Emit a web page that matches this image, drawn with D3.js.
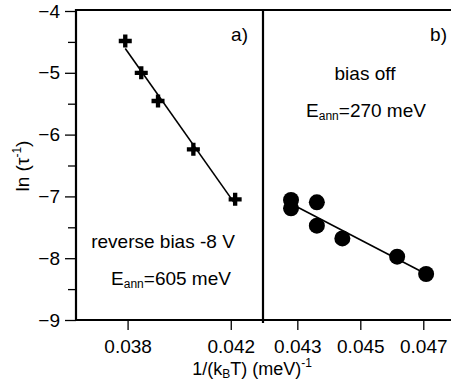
<!DOCTYPE html>
<html><head><meta charset="utf-8">
<script src="https://cdn.jsdelivr.net/npm/d3@7"></script>
<style>body{margin:0;background:#fff}svg{display:block;font-family:"Liberation Sans",Arial,sans-serif}</style>
</head><body><svg id="c" width="451" height="383"></svg>
<script>
// Panel a: reverse bias -8 V (crosses)
const xA_vals = [0.03791, 0.03853, 0.03918, 0.04055, 0.04217];
const yA_vals = [-4.485, -5.0, -5.456, -6.238, -7.047];
// Panel b: bias off (circles)
const xB_vals = [0.0428, 0.0428, 0.04362, 0.04362, 0.04443, 0.04617, 0.04709];
const yB_vals = [-7.058, -7.193, -7.096, -7.474, -7.68, -7.976, -8.256];
const yTicks = [-9, -8, -7, -6, -5, -4];
const yMinor = [-8.5, -7.5, -6.5, -5.5, -4.5];
const xA_ticks = [0.038, 0.042];
const xB_ticks = [0.043, 0.045, 0.047];

const svg = d3.select("#c");
const L = 76, T = 10, B = 320, D = 263, R = 451;
const y = d3.scaleLinear().domain([-9, -4]).range([320, 11]);
const xA = d3.scaleLinear().domain([0.036, 0.04325]).range([L, D]);
const xB = d3.scaleLinear().domain([0.04191, 0.04788]).range([D, R]);

function styleAxis(g){
  g.select(".domain").remove();
  g.selectAll("line").attr("stroke","#000").attr("stroke-width",1.3);
  g.selectAll("text").attr("font-size",19).attr("fill","#000").attr("font-family","Liberation Sans, Arial, sans-serif");
}
svg.append("g").attr("transform",`translate(${L},0)`)
  .call(d3.axisLeft(y).tickValues(yTicks).tickSize(11).tickPadding(5).tickFormat(d3.format("d")))
  .call(styleAxis);
svg.append("g").attr("transform",`translate(${L},0)`)
  .call(d3.axisLeft(y).tickValues(yMinor).tickSize(8).tickFormat(""))
  .call(styleAxis);
svg.append("g").attr("transform",`translate(0,${B})`)
  .call(d3.axisBottom(xA).tickValues(xA_ticks).tickSize(10).tickPadding(10).tickFormat(d3.format(".3f")))
  .call(styleAxis);
svg.append("g").attr("transform",`translate(0,${B})`)
  .call(d3.axisBottom(xB).tickValues(xB_ticks).tickSize(10).tickPadding(10).tickFormat(d3.format(".3f")))
  .call(styleAxis);

// frame
const fr = svg.append("g").attr("stroke","#000").attr("stroke-width",2.2).attr("fill","none");
fr.append("line").attr("x1",L).attr("x2",L).attr("y1",T-1).attr("y2",B+1);
fr.append("line").attr("x1",L-1).attr("x2",R).attr("y1",T).attr("y2",T);
fr.append("line").attr("x1",L-1).attr("x2",R).attr("y1",B).attr("y2",B);
fr.append("line").attr("x1",D).attr("x2",D).attr("y1",T).attr("y2",B+3);

// fit lines
function fit(xs, ys){
  const n=xs.length, mx=d3.mean(xs), my=d3.mean(ys);
  let sxy=0,sxx=0; for(let i=0;i<n;i++){sxy+=(xs[i]-mx)*(ys[i]-my);sxx+=(xs[i]-mx)**2;}
  const m=sxy/sxx, b=my-m*mx; const x0=d3.min(xs), x1=d3.max(xs);
  return [[x0,m*x0+b],[x1,m*x1+b]];
}
const fa = fit(xA_vals,yA_vals), fb = fit(xB_vals,yB_vals);
svg.append("path").attr("d", d3.line().x(d=>xA(d[0])).y(d=>y(d[1]))(fa)).attr("stroke","#000").attr("stroke-width",1.6).attr("fill","none");
svg.append("path").attr("d", d3.line().x(d=>xB(d[0])).y(d=>y(d[1]))(fb)).attr("stroke","#000").attr("stroke-width",1.6).attr("fill","none");

// markers
const cross = d3.symbol().type(d3.symbolCross).size(94);
svg.append("g").selectAll("path").data(xA_vals.map((v,i)=>[v,yA_vals[i]])).join("path")
  .attr("d", cross).attr("transform", d=>`translate(${xA(d[0])},${y(d[1])})`).attr("fill","#000");
svg.append("g").selectAll("circle").data(xB_vals.map((v,i)=>[v,yB_vals[i]])).join("circle")
  .attr("cx", d=>xB(d[0])).attr("cy", d=>y(d[1])).attr("r",8).attr("fill","#000");

// text annotations
function txt(x, yy, anchor){ return svg.append("text").attr("x",x).attr("y",yy).attr("text-anchor",anchor).attr("font-size",19).attr("fill","#000"); }
txt(248, 41, "end").text("a)");
txt(447, 41, "end").text("b)");
txt(365, 80, "middle").text("bias off");
let t = txt(366, 117, "middle");
t.append("tspan").text("E");
t.append("tspan").attr("font-size",12).attr("dy",3).text("ann");
t.append("tspan").attr("dy",-3).text("=270 meV");
txt(163, 248, "middle").text("reverse bias -8 V");
t = txt(171, 285, "middle");
t.append("tspan").text("E");
t.append("tspan").attr("font-size",12).attr("dy",3).text("ann");
t.append("tspan").attr("dy",-3).text("=605 meV");

// axis titles
t = txt(252, 375, "middle").attr("font-size",18);
t.append("tspan").text("1/(k");
t.append("tspan").attr("font-size",12).attr("dy",3).text("B");
t.append("tspan").attr("dy",-3).text("T) (meV)");
t.append("tspan").attr("font-size",12).attr("dy",-8).text("-1");

t = svg.append("text").attr("transform","translate(29,166) rotate(-90)").attr("text-anchor","middle").attr("font-size",19).attr("fill","#000");
t.append("tspan").text("ln (τ");
t.append("tspan").attr("font-size",12).attr("dy",-8).text("-1");
t.append("tspan").attr("dy",8).text(")");
</script></body></html>
